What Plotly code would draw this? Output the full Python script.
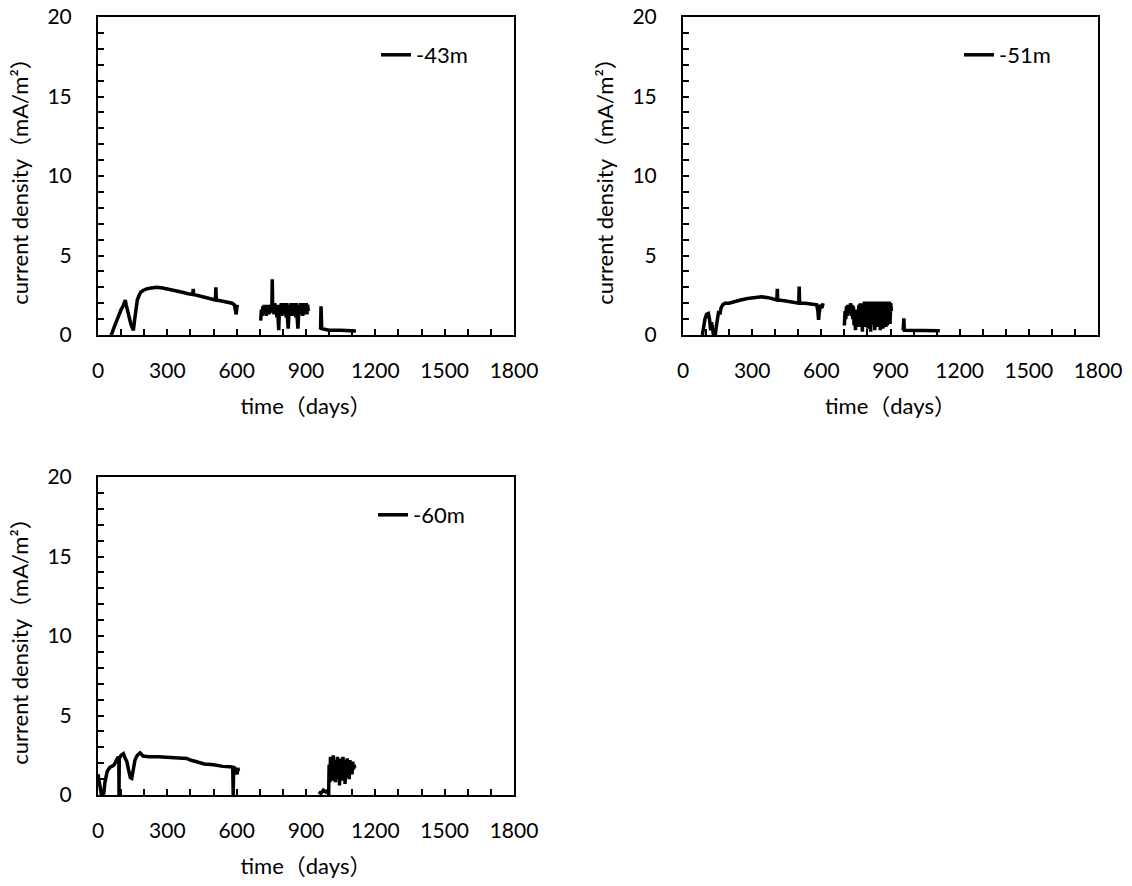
import plotly.graph_objects as go

# ---------------- data: (day, current density mA/m2) ----------------
# -43m
seg43_a = [(55, 0.0), (60, 0.1), (70, 0.5), (80, 0.9), (90, 1.3), (100, 1.6), (108, 1.8), (115, 2.1),
           (118, 2.2), (122, 1.9), (128, 1.5), (135, 1.0), (142, 0.7), (150, 0.4), (153, 0.3), (158, 0.9),
           (163, 1.6), (170, 2.2), (178, 2.5), (185, 2.7), (195, 2.8), (210, 2.9), (230, 2.95), (254, 3.0),
           (280, 2.95), (300, 2.9), (330, 2.8), (360, 2.7), (390, 2.6), (410, 2.55), (412, 2.9), (414, 2.55),
           (440, 2.45), (470, 2.35), (500, 2.25), (508, 2.2), (510, 3.0), (512, 2.2), (530, 2.15),
           (550, 2.1), (565, 2.05), (580, 2.0), (590, 1.9), (595, 1.5), (598, 1.3), (600, 1.6), (603, 1.9)]
seg43_b = [(704, 0.9), (707, 1.6), (710, 1.2), (713, 1.8), (716, 1.3), (719, 1.9), (722, 1.4), (725, 1.8),
           (728, 1.2), (731, 1.9), (734, 1.4), (737, 1.9), (740, 1.3), (743, 1.8), (746, 1.5), (749, 1.9),
           (752, 1.4), (754, 3.5), (756, 1.5), (759, 1.9), (762, 1.3), (765, 2.0), (768, 1.4), (771, 1.9),
           (774, 1.1), (777, 1.9), (780, 0.8), (782, 0.3), (784, 1.2), (787, 1.9), (790, 1.3), (793, 2.0),
           (796, 1.2), (799, 1.9), (802, 1.4), (805, 2.0), (808, 1.3), (811, 1.9), (814, 1.1), (817, 2.0),
           (820, 1.0), (823, 0.4), (826, 1.3), (829, 1.9), (832, 1.2), (835, 2.0), (838, 1.4), (841, 1.9),
           (844, 1.2), (847, 2.0), (850, 1.3), (853, 1.9), (856, 1.1), (859, 2.0), (862, 1.0), (865, 0.4),
           (868, 1.2), (871, 1.9), (874, 1.3), (877, 2.0), (880, 1.4), (883, 1.9), (886, 1.2), (889, 2.0),
           (892, 1.3), (895, 1.9), (898, 1.4), (901, 2.0), (904, 1.3), (907, 1.9), (910, 1.5)]
seg43_c = [(963, 0.35), (965, 1.8), (968, 0.4), (980, 0.35), (1000, 0.3), (1050, 0.3), (1100, 0.28),
           (1116, 0.25)]

# -51m
seg51_a = [(84, 0.0), (88, 0.5), (95, 1.0), (102, 1.3), (110, 1.35), (115, 1.0), (120, 0.3), (124, 0.8),
           (128, 0.1), (132, 0.0), (136, 0.2), (140, 0.0), (145, 0.6), (150, 1.2), (155, 1.5), (160, 1.3),
           (165, 1.7), (172, 1.9), (182, 2.0), (200, 2.0), (220, 2.1), (250, 2.2), (280, 2.3), (310, 2.35),
           (341, 2.4), (370, 2.35), (400, 2.25), (407, 2.2), (409, 2.9), (411, 2.2), (440, 2.15),
           (470, 2.1), (500, 2.05), (502, 2.0), (504, 3.05), (506, 2.0), (530, 2.0), (560, 1.95),
           (580, 1.9), (585, 1.5), (588, 0.95), (591, 1.4), (596, 1.9), (602, 1.7), (608, 2.0)]
seg51_b = [(700, 0.6), (703, 1.5), (706, 1.0), (709, 1.8), (712, 1.2), (715, 1.9), (718, 1.3), (721, 1.9),
           (724, 1.4), (727, 2.0), (730, 1.2), (733, 1.9), (736, 1.0), (739, 1.8), (742, 0.6), (745, 1.6),
           (748, 0.3), (751, 1.2), (754, 0.5), (757, 1.6), (760, 0.8), (763, 1.9), (766, 0.5), (769, 2.0),
           (772, 0.8), (775, 2.0), (778, 0.2), (781, 1.9), (784, 0.6), (787, 2.1), (790, 0.5), (793, 2.0),
           (796, 0.8), (799, 2.1), (802, 0.4), (805, 2.1), (808, 0.7), (811, 2.0), (814, 0.2), (817, 2.1),
           (820, 0.6), (823, 2.0), (826, 0.8), (829, 2.1), (832, 0.3), (835, 2.1), (838, 0.7), (841, 2.0),
           (844, 0.5), (847, 2.1), (850, 0.9), (853, 2.0), (856, 0.3), (859, 2.1), (862, 0.8), (865, 2.0),
           (868, 0.4), (871, 2.1), (874, 0.9), (877, 2.1), (880, 0.5), (883, 2.0), (886, 0.6), (889, 2.1),
           (892, 1.0), (895, 2.1), (898, 0.7), (901, 2.0), (904, 1.5)]
seg51_c = [(955, 0.3), (958, 1.05), (960, 0.3), (980, 0.3), (1000, 0.28), (1050, 0.28), (1100, 0.25),
           (1114, 0.27)]

# -60m
seg60_a = [(0, 1.3), (5, 0.8), (10, 0.3), (15, 0.0), (20, 0.0), (25, 0.1), (30, 0.8), (35, 1.3), (40, 1.5),
           (45, 1.6), (52, 1.75), (60, 1.8), (70, 1.9), (80, 2.2), (88, 2.4), (90, 2.3), (91, 0.0), (92, 2.3),
           (100, 2.5), (110, 2.6), (118, 2.3), (125, 2.1), (132, 1.6), (140, 1.1), (146, 1.05), (150, 1.5),
           (160, 2.2), (170, 2.5), (182, 2.65), (195, 2.45), (220, 2.4), (260, 2.4), (300, 2.38),
           (340, 2.35), (384, 2.3), (400, 2.2), (430, 2.05), (460, 1.95), (500, 1.9), (540, 1.8),
           (571, 1.78), (583, 1.75), (585, 0.0), (587, 1.75), (592, 1.7), (598, 1.6), (602, 1.3),
           (605, 1.7), (608, 1.5)]
seg60_b = [(955, 0.2), (965, 0.1), (975, 0.3), (985, 0.2), (995, 0.3), (998, 0.0), (1000, 1.9), (1003, 0.8),
           (1006, 2.4), (1009, 1.2), (1012, 2.0), (1015, 0.9), (1018, 2.5), (1021, 1.3), (1024, 2.2),
           (1027, 0.8), (1030, 2.0), (1033, 1.4), (1036, 2.4), (1039, 1.0), (1042, 2.0), (1045, 0.6),
           (1048, 2.3), (1051, 1.2), (1054, 2.1), (1057, 0.9), (1060, 2.4), (1063, 1.3), (1066, 2.0),
           (1069, 0.7), (1072, 2.2), (1075, 1.1), (1078, 2.3), (1081, 1.4), (1084, 2.0), (1087, 1.0),
           (1090, 2.2), (1093, 1.5), (1096, 2.0), (1099, 1.3), (1102, 2.1), (1105, 1.6), (1108, 1.9),
           (1111, 1.7)]

series_names = ["-43m", "-51m", "-60m"]
series_segments = [[seg43_a, seg43_b, seg43_c], [seg51_a, seg51_b, seg51_c], [seg60_a, seg60_b]]

x_ticks = [0, 300, 600, 900, 1200, 1500, 1800]
y_ticks = [0, 5, 10, 15, 20]
x_title = "time（days）"
y_title = "current density（mA/m²）"

# ---------------- layout ----------------
W, H = 1132, 886
FONT = "Lato, Noto Sans CJK SC, sans-serif"

# panel boxes in pixels: (left, right, top, bottom)
boxes = [(98, 514, 17, 335), (683, 1098, 17, 335), (98, 514, 477, 795)]
legend_pos = [(376, 55), (959, 55), (373, 515)]

fig = go.Figure()
for i, (name, segs, box) in enumerate(zip(series_names, series_segments, boxes)):
    xs, ys = [], []
    for seg in segs:
        if xs:
            xs.append(None)
            ys.append(None)
        xs.extend(p[0] for p in seg)
        ys.extend(p[1] for p in seg)
    sfx = "" if i == 0 else str(i + 1)
    fig.add_trace(go.Scatter(
        x=xs, y=ys, mode="lines", name=name, connectgaps=False,
        line=dict(color="black", width=3.5),
        xaxis="x" + sfx, yaxis="y" + sfx,
        legend="legend" + sfx,
    ))

    l, r, t, b = box
    axis_common = dict(
        showline=True, linecolor="black", linewidth=2, mirror=True, automargin=False,
        showgrid=False, zeroline=False, ticks="inside", ticklen=6, tickwidth=1.5,
        tickcolor="black", tickfont=dict(family=FONT, size=21, color="black"),
    )
    fig.update_layout(**{
        "xaxis" + sfx: dict(
            domain=[l / W, r / W], anchor="y" + sfx, range=[0, 1800],
            tickvals=x_ticks, ticklabelstandoff=16,
            minor=dict(dtick=100, ticks="inside", ticklen=6, tickwidth=1.5, tickcolor="black"),
            title=dict(text=x_title, font=dict(family=FONT, size=22, color="black"), standoff=17),
            **axis_common),
        "yaxis" + sfx: dict(
            domain=[1 - b / H, 1 - t / H], anchor="x" + sfx, range=[0, 20],
            tickvals=y_ticks, ticklabelstandoff=20,
            minor=dict(dtick=1, ticks="inside", ticklen=6, tickwidth=1.5, tickcolor="black"),
            title=dict(text=y_title, font=dict(family=FONT, size=22, color="black"), standoff=13),
            **axis_common),
    })
    lx, ly = legend_pos[i]
    fig.update_layout(**{
        "legend" + sfx: dict(
            x=lx / W, y=1 - ly / H, xanchor="left", yanchor="middle",
            bgcolor="rgba(0,0,0,0)", borderwidth=0,
            font=dict(family=FONT, size=22, color="black"),
            itemwidth=30,
        )
    })

fig.update_layout(
    width=W, height=H, margin=dict(l=0, r=0, t=0, b=0),
    paper_bgcolor="white", plot_bgcolor="white", showlegend=True,
)

fig.write_html("out.html")
